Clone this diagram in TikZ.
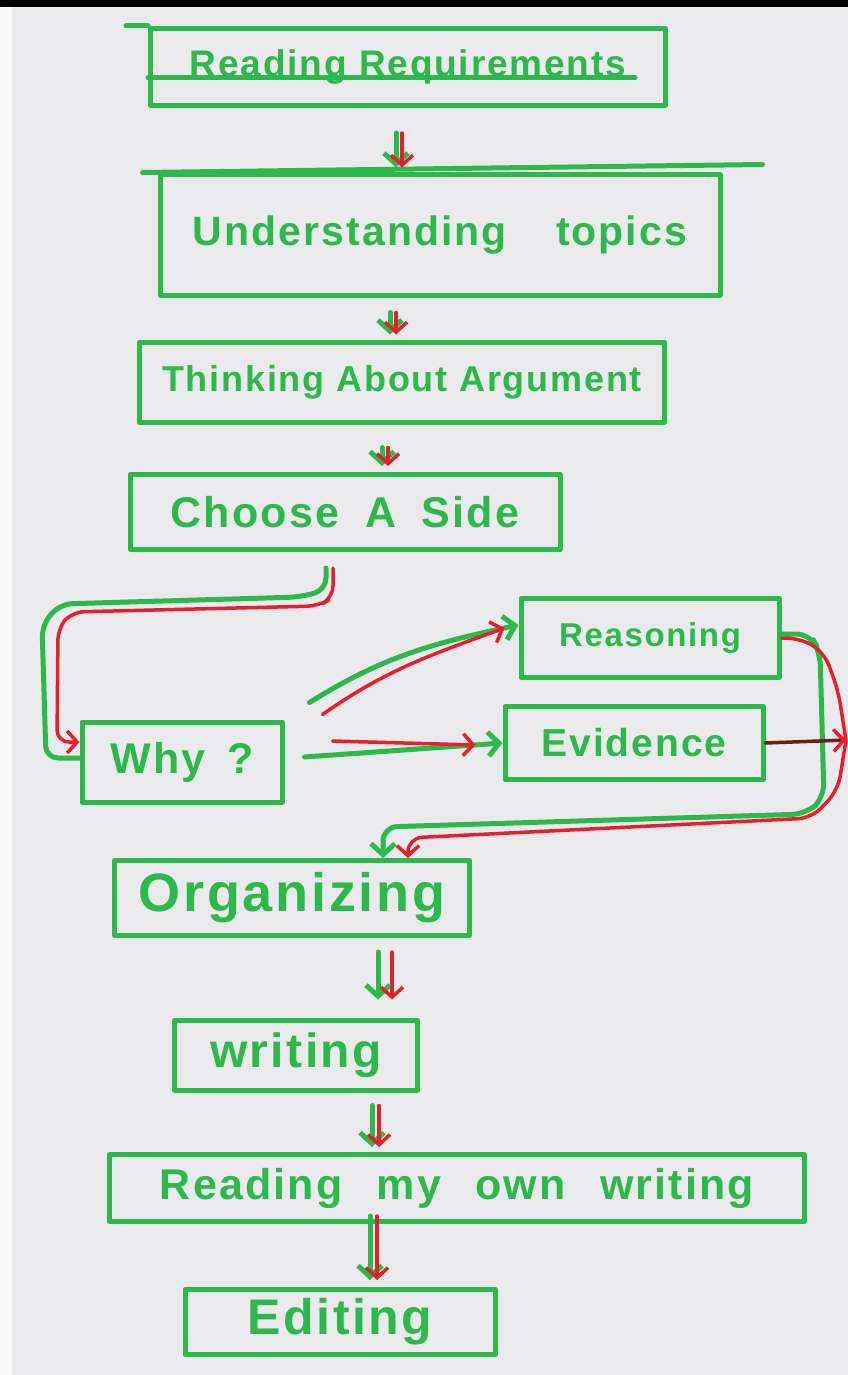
\documentclass[tikz,border=0pt]{standalone}
\usepackage{fontspec}
\setmainfont{Liberation Sans}[LetterSpace=5]
\usetikzlibrary{arrows.meta}
\definecolor{pen}{HTML}{2DB84B}
\definecolor{redpen}{HTML}{E3202E}
\definecolor{darkpen}{HTML}{6E1C1C}
\definecolor{paper}{HTML}{EAEAEC}
\begin{document}
\begin{tikzpicture}[x=1pt,y=-1pt,
  box/.style={draw=pen,line width=5pt,text=pen,inner sep=0pt,line join=round},
  gline/.style={draw=pen,line width=5pt,line cap=round,line join=round},
  rline/.style={draw=redpen,line width=3.5pt,line cap=round,line join=round},
  gtip/.style={-{Straight Barb[length=11pt,width=24pt]}},
  rtip/.style={-{Straight Barb[length=10pt,width=22pt]}},
]
\fill[paper] (0,0) rectangle (848,1375);
\fill[white!96!gray] (0,7) rectangle (12,1375);
\fill[black] (0,0) rectangle (848,7);
\useasboundingbox (0,0) rectangle (848,1375);

% boxes
\node[box,minimum width=515,minimum height=77,font=\bfseries\fontsize{37}{40}\selectfont] (rr) at (408,67) {Reading Requirements};
\node[box,minimum width=560,minimum height=120,font=\bfseries\fontsize{41}{44}\selectfont] (ut) at (440,235) {Understanding\hspace{1.2em}topics};
\node[box,minimum width=525,minimum height=80,font=\bfseries\fontsize{36}{40}\selectfont] (ta) at (402,382) {Thinking About Argument};
\node[box,minimum width=430,minimum height=75,font=\bfseries\fontsize{43}{46}\selectfont] (cs) at (345,512) {Choose\hspace{.6em}A\hspace{.6em}Side};
\node[box,minimum width=200,minimum height=80,font=\bfseries\fontsize{43}{46}\selectfont] (why) at (182,762) {Why\hspace{.5em}?};
\node[box,minimum width=258,minimum height=79,font=\bfseries\fontsize{33}{36}\selectfont] (rs) at (650,638) {Reasoning};
\node[box,minimum width=258,minimum height=73,font=\bfseries\fontsize{39}{44}\selectfont] (ev) at (634,743) {Evidence};
\node[box,minimum width=355,minimum height=75,font=\bfseries\fontsize{54}{60}\selectfont] (org) at (292,898) {Organizing};
\node[box,minimum width=243,minimum height=70,font=\bfseries\fontsize{48}{54}\selectfont] (wr) at (296,1055) {writing};
\node[box,minimum width=695,minimum height=67,font=\bfseries\fontsize{43}{48}\selectfont] (rm) at (457,1188) {Reading\hspace{.8em}my\hspace{.8em}own\hspace{.8em}writing};
\node[box,minimum width=310,minimum height=65,font=\bfseries\fontsize{50}{56}\selectfont] (ed) at (340,1322) {Editing};

% extra strokes of the hand-drawn boxes
\draw[gline] ([xshift=-22pt]rr.north west) -- (rr.north west);
\draw[gline] ([yshift=-11pt]rr.west) -- ([xshift=-33pt,yshift=-11pt]rr.east);
\draw[gline] ([xshift=-15pt]ut.north west) -- ([xshift=40pt,yshift=8pt]ut.north east);

% x positions of the short down arrows
\coordinate (a1g) at (396,0); \coordinate (a1r) at (402,0);
\coordinate (a2g) at (390,0); \coordinate (a2r) at (396,0);
\coordinate (a3g) at (382,0); \coordinate (a3r) at (388,0);
\coordinate (a4g) at (378,0); \coordinate (a4r) at (392,0);
\coordinate (a5g) at (372,0); \coordinate (a5r) at (379,0);
\coordinate (a6g) at (370,0); \coordinate (a6r) at (377,0);

\draw[gline,gtip,shorten <=25pt,shorten >=5pt] (rr.south -| a1g) -- (ut.north -| a1g);
\draw[rline,rtip,shorten <=25pt,shorten >=5pt] (rr.south -| a1r) -- (ut.north -| a1r);
\draw[gline,gtip,shorten <=15pt,shorten >=5pt] (ut.south -| a2g) -- (ta.north -| a2g);
\draw[rline,rtip,shorten <=15pt,shorten >=5pt] (ut.south -| a2r) -- (ta.north -| a2r);
\draw[gline,gtip,shorten <=23pt,shorten >=6pt] (ta.south -| a3g) -- (cs.north -| a3g);
\draw[rline,rtip,shorten <=23pt,shorten >=6pt] (ta.south -| a3r) -- (cs.north -| a3r);
\draw[gline,gtip,shorten <=14pt,shorten >=18pt] (org.south -| a4g) -- (wr.north -| a4g);
\draw[rline,rtip,shorten <=14pt,shorten >=18pt] (org.south -| a4r) -- (wr.north -| a4r);
\draw[gline,gtip,shorten <=13pt,shorten >=5pt] (wr.south -| a5g) -- (rm.north -| a5g);
\draw[rline,rtip,shorten <=13pt,shorten >=5pt] (wr.south -| a5r) -- (rm.north -| a5r);
\draw[gline,gtip,shorten <=-8pt,shorten >=7pt] (rm.south -| a6g) -- (ed.north -| a6g);
\draw[rline,rtip,shorten <=-8pt,shorten >=7pt] (rm.south -| a6r) -- (ed.north -| a6r);

% Choose A Side -> Why
\coordinate (cg) at (326,0); \coordinate (cr) at (333,0);
\coordinate (wyg) at (0,758); \coordinate (wyr) at (0,742);
\draw[gline,rounded corners=12pt,shorten <=16pt] (cs.south -| cg) -- (326,590) -- (300,597) -- (60,604) -- (42,625) -- (46,758) -- (why.west |- wyg);
\draw[rline,rtip,rounded corners=12pt,shorten <=16pt] (cs.south -| cr) -- (333,598) -- (318,606) -- (72,612) -- (58,628) -- (57,742) -- (why.west |- wyr);

% Why -> Reasoning / Evidence
\draw[gline,gtip] ([xshift=25pt,yshift=17pt]why.north east) to[out=32,in=192] ([yshift=13pt]rs.west);
\draw[rline,rtip] ([xshift=38pt,yshift=5pt]why.north east) to[out=35,in=200] ([xshift=-14pt,yshift=10pt]rs.west);
\draw[gline,gtip] ([xshift=20pt,yshift=5pt]why.east) -- (ev.west);
\draw[rline,rtip] ([xshift=48pt,yshift=21pt]why.east) -- ([xshift=-27pt,yshift=-2pt]ev.west);

% Reasoning / Evidence -> Organizing
\coordinate (J) at (846,740);
\coordinate (lg) at (383,0); \coordinate (lr) at (408,0);
\draw[gline,gtip,rounded corners=14pt] ([yshift=4pt]rs.east) -- (810,634) -- (820,652) -- (824,798) -- (806,814) -- (383,827) -- (org.north -| lg);
\draw[rline,rounded corners=14pt] (rs.east) -- (800,638) -- (824,652) -- (838,690) -- (J);
\draw[draw=darkpen,line width=3.5pt,line cap=round,-{Straight Barb[length=10pt,width=22pt,color=redpen]}] (ev.east) -- (J);
\draw[rline,rtip,rounded corners=14pt] (J) -- (838,790) -- (812,818) -- (408,838) -- (org.north -| lr);
\end{tikzpicture}
\end{document}
